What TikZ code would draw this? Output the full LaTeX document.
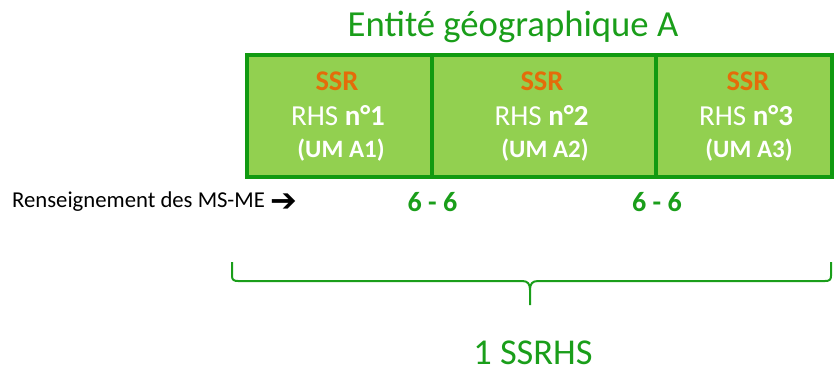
\documentclass[tikz,border=0pt]{standalone}
\usepackage{fontspec}
\setmainfont{Carlito}
\newfontfamily\symfont{DejaVu Sans}
\definecolor{boxfill}{HTML}{92D050}
\definecolor{boxline}{HTML}{119A11}
\definecolor{txtgreen}{HTML}{1A9E1A}
\definecolor{ssrorange}{HTML}{E46C0A}
\tikzset{
  cell/.style={draw=boxline, line width=3.5pt, fill=boxfill, minimum height=122pt, inner sep=0pt},
  ssr/.style={text=ssrorange, font=\fontsize{28.5}{32}\selectfont\bfseries},
  rhs/.style={text=white, font=\fontsize{29}{33}\selectfont},
  um/.style={text=white, font=\fontsize{25}{29}\selectfont\bfseries},
  count/.style={text=txtgreen, font=\fontsize{28}{32}\selectfont\bfseries},
  brace/.style={draw=txtgreen, line width=2pt}
}
\begin{document}
\begin{tikzpicture}[x=1pt,y=-1pt]
\useasboundingbox (0,0) rectangle (840,374);
% cells
\node[cell, minimum width=185pt] (c1) at (339.5,116) {};
\node[cell, minimum width=224pt] (c2) at (544,116) {};
\node[cell, minimum width=176pt] (c3) at (744,116) {};
\node[text=txtgreen, font=\fontsize{36.7}{40}\selectfont] (title) at (513,27) {Entité géographique A};
% cell texts
\node[ssr] (s1) at (337,81) {SSR};
\node[ssr] (s2) at (542,81) {SSR};
\node[ssr] (s3) at (748,81) {SSR};
\node[rhs] (r1) at (338,116) {RHS \textbf{n°1}};
\node[rhs] (r2) at (541.5,116) {RHS \textbf{n°2}};
\node[rhs] (r3) at (746,116) {RHS \textbf{n°3}};
\node[um] (u1) at (341,150) {(UM A1)};
\node[um] (u2) at (545,150) {(UM A2)};
\node[um] (u3) at (749,150) {(UM A3)};
% row label
\node[anchor=west, font=\fontsize{22.7}{26}\selectfont, inner sep=0pt] (lab) at (12,202) {Renseignement des MS-ME};
\node[anchor=west, font=\symfont\bfseries\fontsize{32}{34}\selectfont, inner sep=0pt] (arr) at (270,202.5) {➔};
\node[count] (n1) at (432.5,202) {6 - 6};
\node[count] (n2) at (657,202) {6 - 6};
% brace
\coordinate (bl) at (232,262);
\coordinate (br) at (831,262);
\coordinate (bt) at (530,305);
\draw[brace] (bl) -- (232,276) .. controls (232,280) and (234,281) .. (238,281)
  -- (522,281) .. controls (528,281) and (530,284) .. (530,290) -- (bt);
\draw[brace] (br) -- (831,276) .. controls (831,280) and (829,281) .. (825,281)
  -- (538,281) .. controls (532,281) and (530,284) .. (530,290);
\node[text=txtgreen, font=\fontsize{36.4}{40}\selectfont, inner sep=0pt] (total) at (533,353) {1 SSRHS};
\end{tikzpicture}
\end{document}
